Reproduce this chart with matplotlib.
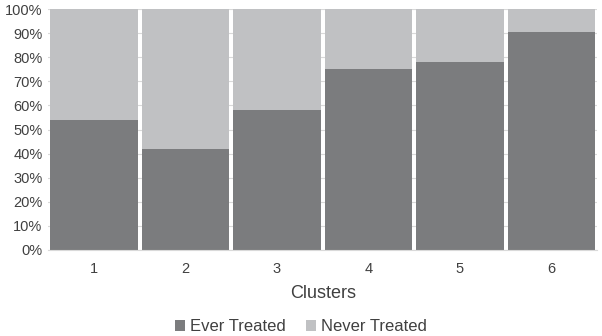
import matplotlib
matplotlib.use("Agg")
import matplotlib.pyplot as plt
from matplotlib.ticker import PercentFormatter

plt.rcParams['font.family'] = ['Liberation Sans', 'DejaVu Sans']

clusters = ['1', '2', '3', '4', '5', '6']
ever_treated = [54, 42, 58, 75, 78, 90.3]
never_treated = [100 - v for v in ever_treated]

dark = '#7b7c7e'
light = '#c0c1c3'

fig = plt.figure(figsize=(6.02, 3.36), dpi=100)
ax = fig.add_axes([0.080, 0.256, 0.912, 0.717])

x = range(len(clusters))
ax.bar(x, ever_treated, width=0.955, color=dark, label='Ever Treated', zorder=2)
ax.bar(x, never_treated, bottom=ever_treated, width=0.955, color=light,
       label='Never Treated', zorder=2)

ax.set_xlim(-0.5, len(clusters) - 0.5)
ax.set_ylim(0, 100)
ax.set_yticks(range(0, 101, 10))
ax.yaxis.set_major_formatter(PercentFormatter(decimals=0))
ax.set_xticks(list(x))
ax.set_xticklabels(clusters)
ax.grid(axis='y', color='#d9d9d9', linewidth=0.8, zorder=0)

for s in ['top', 'right', 'left']:
    ax.spines[s].set_visible(False)
ax.spines['bottom'].set_color('#d9d9d9')
ax.tick_params(length=0, labelsize=10.5, colors='#404040')
ax.tick_params(axis='x', pad=9)
ax.tick_params(axis='y', pad=4)

ax.set_xlabel('Clusters', fontsize=13, color='#404040', labelpad=6)

leg = fig.legend(loc='lower center', bbox_to_anchor=(0.5, -0.04), ncol=2,
                 frameon=False, fontsize=12, handlelength=0.6, handleheight=0.6,
                 handletextpad=0.3, columnspacing=1.2)
for t in leg.get_texts():
    t.set_color('#404040')

fig.savefig('out.png', dpi=100)
